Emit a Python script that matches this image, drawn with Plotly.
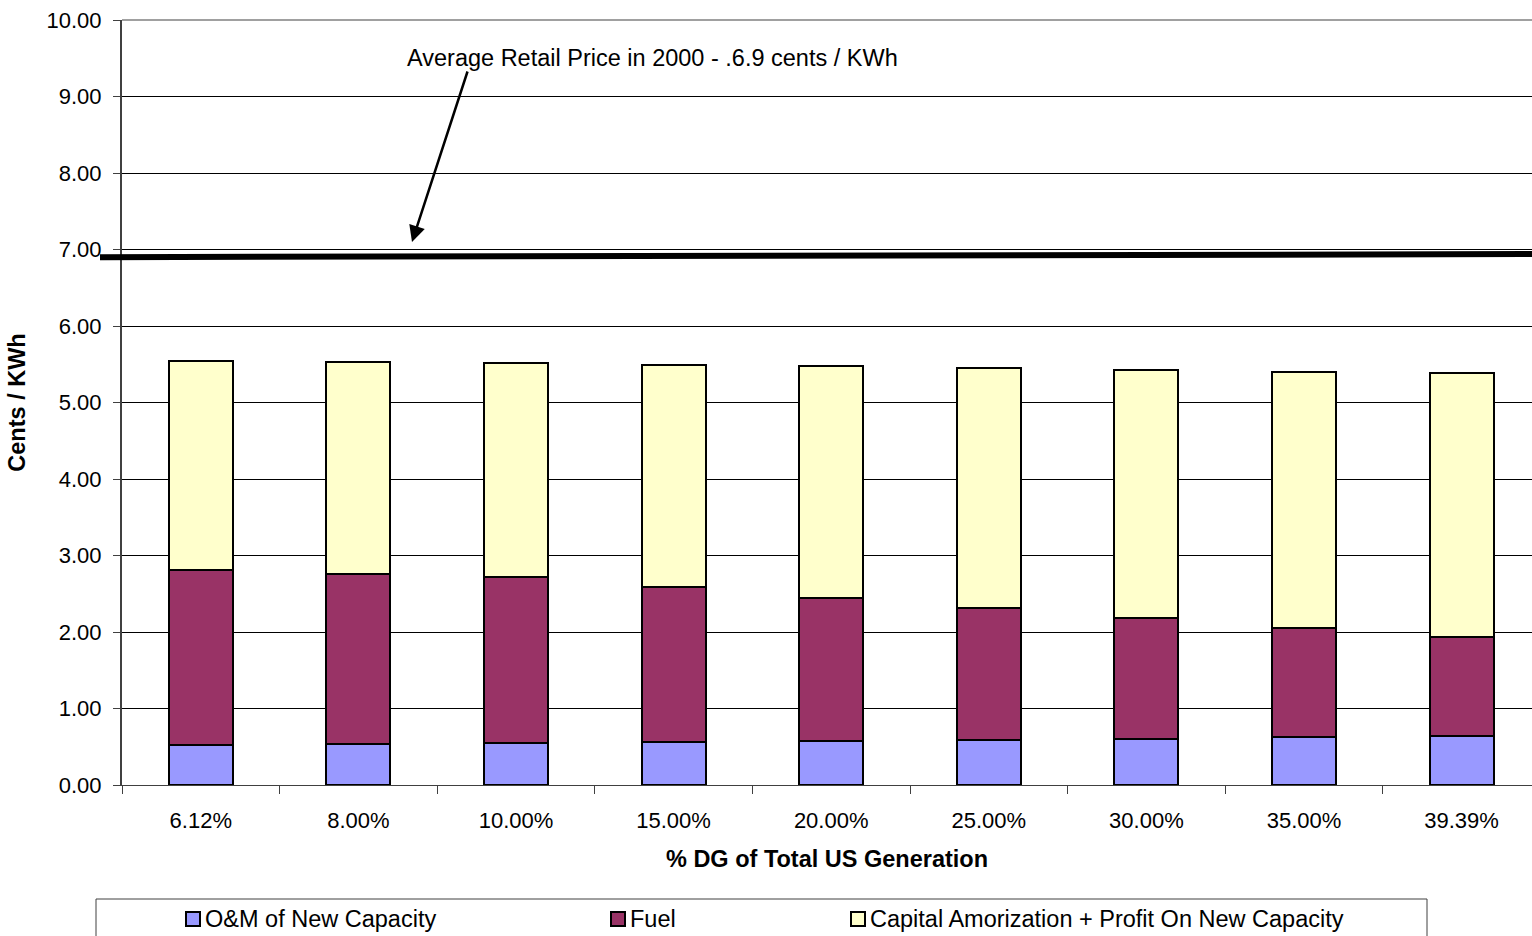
import plotly.graph_objects as go

# Share of distributed generation in total US generation
categories = ["6.12%", "8.00%", "10.00%", "15.00%", "20.00%", "25.00%", "30.00%", "35.00%", "39.39%"]

# Cost components, cents / KWh
om_new_capacity = [0.52, 0.53, 0.55, 0.56, 0.58, 0.59, 0.60, 0.63, 0.64]
fuel = [2.29, 2.23, 2.17, 2.03, 1.87, 1.72, 1.58, 1.42, 1.30]
capital_profit = [2.73, 2.77, 2.80, 2.90, 3.03, 3.14, 3.24, 3.35, 3.45]

series_names = ["O&M of New Capacity", "Fuel", "Capital Amorization + Profit On New Capacity"]
series_colors = ["#9999FF", "#993366", "#FFFFCC"]

retail_price_2000 = 6.9
y_max = 10.0
y_ticks = [0, 1, 2, 3, 4, 5, 6, 7, 8, 9, 10]

FONT = "Liberation Sans, Arial, sans-serif"
FS = 22
FS_TEXT = 23.5

fig = go.Figure()
for name, vals, color in zip(series_names, [om_new_capacity, fuel, capital_profit], series_colors):
    fig.add_trace(go.Bar(
        x=categories, y=vals, name=name,
        marker=dict(color=color, line=dict(color="#000000", width=2)),
        showlegend=False,
    ))

W, H = 1532, 936
ml, mr, mt, mb = 122, 0, 20, 151
pw = W - ml - mr
ph = H - mt - mb
cat_px = 157.6
x_hi = -0.5 + pw / cat_px


def px_x(p):
    return (p - ml) / pw


def px_y(p):
    return (H - mb - p) / ph


fig.update_layout(
    width=W, height=H,
    margin=dict(l=ml, r=mr, t=mt, b=mb, pad=0),
    barmode="stack",
    bargap=0.594,
    plot_bgcolor="white",
    paper_bgcolor="white",
    font=dict(family=FONT, size=FS, color="#000000"),
    xaxis=dict(
        type="category",
        range=[-0.5, x_hi],
        tickson="boundaries",
        ticks="outside", ticklen=8, tickcolor="#404040", tickwidth=1,
        ticklabelstandoff=16,
        showline=True, linecolor="#404040", linewidth=1,
        showgrid=False,
        tickfont=dict(family=FONT, size=FS),
        title=dict(text="<b>% DG of Total US Generation</b>", standoff=18,
                   font=dict(family=FONT, size=FS_TEXT)),
        automargin=False,
    ),
    yaxis=dict(
        range=[0, y_max],
        tickvals=y_ticks,
        tickformat=".2f",
        ticks="outside", ticklen=7, tickcolor="#404040", tickwidth=1,
        ticklabelstandoff=7,
        showline=True, linecolor="#404040", linewidth=2,
        showgrid=True, gridcolor="#000000", gridwidth=1,
        zeroline=False,
        tickfont=dict(family=FONT, size=FS),
        title=dict(text="<b>Cents / KWh</b>", standoff=14,
                   font=dict(family=FONT, size=FS_TEXT)),
        automargin=False,
    ),
)

# Top border of the plot area in a lighter grey
fig.add_shape(
    type="line", xref="paper", yref="paper",
    x0=0, x1=1, y0=1, y1=1,
    line=dict(color="#808080", width=1.5), layer="above",
)

# Thick reference line for the average retail price
fig.add_shape(
    type="line", xref="paper", yref="paper",
    x0=px_x(100), x1=1.0,
    y0=retail_price_2000 / y_max, y1=(retail_price_2000 + 0.04) / y_max,
    line=dict(color="#000000", width=6),
    layer="above",
)

# Label and arrow pointing at the price line
fig.add_annotation(
    text="Average Retail Price in 2000 - .6.9 cents / KWh",
    xref="paper", yref="paper", x=px_x(652), y=px_y(58),
    showarrow=False, font=dict(family=FONT, size=FS_TEXT),
    xanchor="center", yanchor="middle",
)
fig.add_annotation(
    text="", xref="paper", yref="paper",
    x=px_x(412), y=px_y(242),
    ax=468 - 412, ay=70 - 242,
    showarrow=True, arrowhead=2, arrowsize=1.3, arrowwidth=2.5, arrowcolor="#000000",
)

# Legend box below the chart
fig.add_shape(
    type="rect", xref="paper", yref="paper",
    x0=px_x(96), x1=px_x(1427), y0=px_y(899), y1=px_y(960),
    line=dict(color="#404040", width=1), fillcolor="white", layer="above",
)
legend_marker_px = [186, 611, 851]
for name, color, mx in zip(series_names, series_colors, legend_marker_px):
    fig.add_shape(
        type="rect", xref="paper", yref="paper",
        x0=px_x(mx), x1=px_x(mx + 14), y0=px_y(912), y1=px_y(926),
        line=dict(color="#000000", width=2), fillcolor=color, layer="above",
    )
    fig.add_annotation(
        text=name, xref="paper", yref="paper",
        x=px_x(mx + 17), y=px_y(919),
        showarrow=False, xanchor="left", yanchor="middle",
        font=dict(family=FONT, size=FS_TEXT),
    )

fig.write_html("out.html")
